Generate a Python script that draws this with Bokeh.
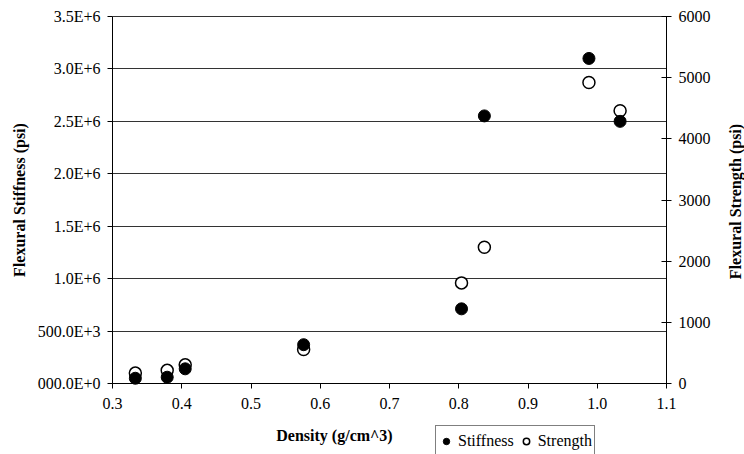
import math
from bokeh.plotting import figure
from bokeh.models import (Range1d, LinearAxis, FixedTicker, Label, Legend, LegendItem)
from bokeh.embed import file_html
from bokeh.resources import INLINE

# ---- data ----
density = [0.333, 0.379, 0.405, 0.576, 0.804, 0.837, 0.988, 1.033]
stiffness = [50e3, 60e3, 140e3, 370e3, 712e3, 2552e3, 3100e3, 2500e3]
strength = [170, 215, 305, 556, 1645, 2227, 4920, 4460]

x_ticks = [0.3, 0.4, 0.5, 0.6, 0.7, 0.8, 0.9, 1.0, 1.1]
x_tick_labels = ["0.3", "0.4", "0.5", "0.6", "0.7", "0.8", "0.9", "1.0", "1.1"]
left_ticks = [0, 500e3, 1.0e6, 1.5e6, 2.0e6, 2.5e6, 3.0e6, 3.5e6]
left_tick_labels = ["000.0E+0", "500.0E+3", "1.0E+6", "1.5E+6", "2.0E+6",
                    "2.5E+6", "3.0E+6", "3.5E+6"]
right_ticks = [0, 1000, 2000, 3000, 4000, 5000, 6000]

FONT = "'Liberation Serif'"

# ---- layout (pixels) ----
W, H = 744, 454
PX_L, PX_R = 112, 666      # pixel columns of x = 0.3 and x = 1.1
PX_T, PX_B = 16, 383       # pixel rows of the top and the zero line
x_lo, x_hi = 0.3, 1.1
y_hi, y2_hi = 3.5e6, 6000

sx = (PX_R - PX_L) / (x_hi - x_lo)
sy = (PX_B - PX_T) / y_hi
sy2 = (PX_B - PX_T) / y2_hi

p = figure(width=W, height=H, output_backend="svg", toolbar_location=None,
           x_range=Range1d(x_lo - PX_L / sx, x_hi + (W - PX_R) / sx),
           y_range=Range1d(-(H - PX_B) / sy, y_hi + PX_T / sy),
           min_border_left=0, min_border_right=0, min_border_top=0,
           min_border_bottom=0)
p.outline_line_color = None
p.background_fill_color = "white"
p.border_fill_color = "white"

p.extra_y_ranges = {"strength": Range1d(-(H - PX_B) / sy2, y2_hi + PX_T / sy2)}

# x axis drawn on the zero line
xa = p.xaxis[0]
xa.fixed_location = 0
xa.bounds = (x_lo, x_hi)
xa.ticker = FixedTicker(ticks=x_ticks)
xa.major_label_overrides = {t: l for t, l in zip(x_ticks, x_tick_labels)}
xa.minor_tick_line_color = None
xa.major_tick_in = 0
xa.major_tick_out = 5
xa.major_label_standoff = 9
xa.axis_line_color = "black"
xa.major_tick_line_color = "black"
xa.major_label_text_font = FONT
xa.major_label_text_font_size = "16px"
xa.major_label_text_color = "black"

# left axis
ya = p.yaxis[0]
ya.fixed_location = x_lo
ya.bounds = (0, y_hi)
ya.ticker = FixedTicker(ticks=left_ticks)
ya.major_label_overrides = {t: l for t, l in zip(left_ticks, left_tick_labels)}
ya.minor_tick_line_color = None
ya.major_tick_in = 0
ya.major_tick_out = 5
ya.major_label_standoff = 7
ya.axis_line_color = "black"
ya.major_tick_line_color = "black"
ya.major_label_text_font = FONT
ya.major_label_text_font_size = "16px"
ya.major_label_text_color = "black"
ya.axis_label = "Flexural Stiffness (psi)"
ya.axis_label_text_font = FONT
ya.axis_label_text_font_size = "16px"
ya.axis_label_text_font_style = "bold"
ya.axis_label_text_color = "black"
ya.axis_label_standoff = 7

# right axis
ra = LinearAxis(y_range_name="strength", ticker=FixedTicker(ticks=right_ticks),
                bounds=(0, y2_hi), fixed_location=x_hi)
ra.minor_tick_line_color = None
ra.major_tick_in = 5
ra.major_tick_out = 5
ra.major_label_standoff = 7
ra.axis_line_color = "black"
ra.major_tick_line_color = "black"
ra.major_label_text_font = FONT
ra.major_label_text_font_size = "16px"
ra.major_label_text_color = "black"
p.add_layout(ra, "right")

# right axis title, reading bottom to top
p.add_layout(Label(x=735, y=H - 201, x_units="screen", y_units="screen",
                   text="Flexural Strength (psi)", angle=math.pi / 2,
                   text_font=FONT, text_font_size="16px",
                   text_font_style="bold", text_color="black",
                   text_align="center", text_baseline="middle"))

# grid
p.xgrid.grid_line_color = None
p.ygrid.grid_line_color = "#333333"
p.ygrid.grid_line_width = 1
p.ygrid.cross_bounds = (x_lo, x_hi)

# data
r_str = p.scatter(density, strength, y_range_name="strength", size=12,
                  marker="circle", fill_color="white", line_color="black",
                  line_width=1.5)
r_stf = p.scatter(density, stiffness, size=12, marker="circle",
                  fill_color="black", line_color="black", line_width=1)

# x-axis title (shifted left as in the reference)
p.add_layout(Label(x=334, y=19, x_units="screen", y_units="screen",
                   text="Density (g/cm^3)", text_font=FONT,
                   text_font_size="16px", text_font_style="bold",
                   text_color="black", text_align="center",
                   text_baseline="middle"))

legend = Legend(items=[LegendItem(label="Stiffness", renderers=[r_stf]),
                       LegendItem(label="Strength", renderers=[r_str])],
                orientation="horizontal", location=(435, -3),
                label_text_font=FONT, label_text_font_size="16px",
                label_text_color="black",
                glyph_width=16, glyph_height=16, label_height=26,
                label_standoff=4, spacing=4, padding=2, margin=0,
                border_line_color="black", border_line_width=1,
                background_fill_color="white", background_fill_alpha=1)
p.add_layout(legend, "center")

open("out.html", "w").write(file_html(p, INLINE))
